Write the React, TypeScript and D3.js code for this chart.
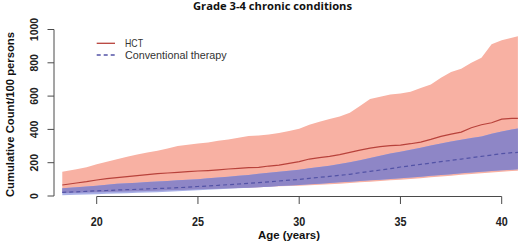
import React from "react";
import * as d3 from "d3";

const ages = [18.3, 19, 19.5, 20, 20.5, 21, 21.5, 22, 22.5, 23, 23.5, 24, 24.5, 25, 25.5, 26, 26.5, 27, 27.5, 28, 28.5, 29, 29.5, 30, 30.5, 31, 31.5, 32, 32.5, 33, 33.5, 34, 34.5, 35, 35.5, 36, 36.5, 37, 37.5, 38, 38.5, 39, 39.5, 40, 40.5, 40.8];

const hctUpper = [146, 160, 172, 190, 205, 220, 235, 250, 262, 272, 285, 300, 308, 316, 322, 332, 340, 350, 360, 364, 370, 378, 390, 404, 428, 446, 462, 478, 500, 540, 582, 596, 610, 616, 626, 648, 670, 710, 745, 765, 800, 830, 912, 935, 950, 960];
const hctMean = [66, 78, 86, 96, 104, 110, 116, 122, 128, 134, 138, 142, 146, 150, 153, 157, 162, 166, 170, 172, 180, 186, 196, 206, 222, 230, 238, 248, 262, 276, 288, 296, 302, 306, 314, 324, 340, 358, 372, 384, 410, 428, 440, 462, 466, 466];
const hctLower = [18, 20, 21, 22, 24, 25, 27, 28, 30, 32, 34, 36, 38, 40, 42, 44, 46, 48, 50, 52, 55, 58, 60, 62, 65, 68, 71, 74, 78, 82, 86, 90, 94, 98, 102, 107, 112, 117, 122, 127, 132, 137, 141, 146, 150, 152];

const convUpper = [46, 52, 57, 62, 68, 73, 77, 80, 84, 87, 90, 94, 97, 100, 106, 111, 116, 121, 126, 133, 140, 146, 152, 158, 166, 174, 182, 192, 202, 214, 228, 242, 255, 266, 278, 290, 303, 316, 328, 338, 348, 358, 374, 388, 400, 406];
const convMean = [22, 25, 28, 31, 33, 36, 38, 40, 43, 45, 47, 50, 53, 57, 60, 64, 68, 72, 76, 80, 85, 90, 95, 100, 106, 112, 118, 124, 130, 140, 148, 156, 164, 174, 182, 190, 198, 207, 214, 222, 230, 238, 246, 254, 260, 262];
const convLower = [5, 7, 9, 11, 13, 15, 17, 19, 21, 23, 25, 28, 31, 34, 37, 40, 43, 46, 49, 52, 56, 60, 63, 66, 70, 74, 78, 82, 86, 90, 94, 98, 102, 106, 111, 116, 121, 126, 131, 136, 141, 146, 150, 155, 158, 160];

const xTicks = [20, 25, 30, 35, 40];
const yTicks = [0, 200, 400, 600, 800, 1000];
const seriesNames = ["HCT", "Conventional therapy"];
const title = "Grade 3-4 chronic conditions";
const xLabel = "Age (years)";
const yLabel = "Cumulative Count/100 persons";

const PINK = "#f8b1a3";
const LIGHTBLUE = "#a9b0e6";
const PURPLE = "#8e86c6";
const RED = "#b8423b";
const BLUE = "#5353a6";
const AXIS = "#4a4a4a";

export default function App() {
  const x = d3.scaleLinear().domain([20, 40]).range([96.7, 501.7]);
  const y = d3.scaleLinear().domain([0, 1000]).range([196, 29.5]);

  const rows = ages.map((a, i) => ({
    a,
    hu: hctUpper[i],
    hm: hctMean[i],
    hl: hctLower[i],
    cu: convUpper[i],
    cm: convMean[i],
    cl: convLower[i],
  }));

  const band = (lo: (d: any) => number, hi: (d: any) => number) =>
    d3
      .area<any>()
      .x((d) => x(d.a))
      .y0((d) => y(lo(d)))
      .y1((d) => y(hi(d)))
      .curve(d3.curveLinear)(rows) || "";

  const line = (f: (d: any) => number) =>
    d3
      .line<any>()
      .x((d) => x(d.a))
      .y((d) => y(f(d)))
      .curve(d3.curveLinear)(rows) || "";

  const pinkPath = band((d) => d.hl, (d) => d.hu);
  const bluePath = band((d) => d.cl, (d) => d.cu);
  const overlapPath = band(
    (d) => Math.max(d.cl, d.hl),
    (d) => Math.min(d.cu, d.hu)
  );

  const boldFont = "'Liberation Sans', Arial, sans-serif";
  const calibriLike = "'Open Sans', 'Liberation Sans', sans-serif";

  return (
    <svg
      width={520}
      height={241}
      style={{ position: "absolute", left: 0, top: 0, background: "#fff" }}
    >
      <rect x={0} y={0} width={520} height={241} fill="#fff" />
      <text
        x={272.5}
        y={10}
        textAnchor="middle"
        fontFamily={calibriLike}
        fontWeight="bold"
        fontSize={10.5}
        textLength={159}
        lengthAdjust="spacingAndGlyphs"
        fill="#111"
      >
        {title}
      </text>

      <path d={pinkPath} fill={PINK} />
      <path d={bluePath} fill={LIGHTBLUE} />
      <path d={overlapPath} fill={PURPLE} />
      <path d={line((d) => d.hm)} fill="none" stroke={RED} strokeWidth={1.2} />
      <path
        d={line((d) => d.cm)}
        fill="none"
        stroke={BLUE}
        strokeWidth={1.2}
        strokeDasharray="4,3"
      />

      {/* Y axis */}
      <line x1={54} x2={54} y1={y(1000)} y2={y(0)} stroke={AXIS} strokeWidth={1} />
      {yTicks.map((t) => (
        <g key={t}>
          <line x1={47.5} x2={54} y1={y(t)} y2={y(t)} stroke={AXIS} strokeWidth={1} />
          <text
            transform={`translate(37.5,${y(t)}) rotate(-90)`}
            textAnchor="middle"
            fontFamily={boldFont}
            fontWeight="bold"
            fontSize={10.5}
            fill="#222"
          >
            {t}
          </text>
        </g>
      ))}
      <text
        transform={`translate(13.5,114.5) rotate(-90)`}
        textAnchor="middle"
        fontFamily={boldFont}
        fontWeight="bold"
        fontSize={11}
        textLength={165}
        lengthAdjust="spacingAndGlyphs"
        fill="#111"
      >
        {yLabel}
      </text>

      {/* X axis */}
      <line x1={x(20)} x2={x(40)} y1={196.5} y2={196.5} stroke={AXIS} strokeWidth={1} />
      {xTicks.map((t) => (
        <g key={t}>
          <line x1={x(t)} x2={x(t)} y1={196.5} y2={204} stroke={AXIS} strokeWidth={1} />
          <text
            x={x(t)}
            y={226}
            textAnchor="middle"
            fontFamily={boldFont}
            fontWeight="bold"
            fontSize={12}
            textLength={12}
            lengthAdjust="spacingAndGlyphs"
            fill="#222"
          >
            {t}
          </text>
        </g>
      ))}
      <text
        x={289}
        y={239}
        textAnchor="middle"
        fontFamily={boldFont}
        fontWeight="bold"
        fontSize={10.5}
        textLength={62}
        lengthAdjust="spacingAndGlyphs"
        fill="#111"
      >
        {xLabel}
      </text>

      {/* Legend */}
      <line x1={96.7} x2={115} y1={43.3} y2={43.3} stroke={RED} strokeWidth={1.3} />
      <text
        x={125}
        y={47.3}
        fontFamily={boldFont}
        fontSize={11}
        textLength={18}
        lengthAdjust="spacingAndGlyphs"
        fill="#333"
      >
        {seriesNames[0]}
      </text>
      <line
        x1={96.7}
        x2={115}
        y1={55}
        y2={55}
        stroke={BLUE}
        strokeWidth={1.3}
        strokeDasharray="4,3"
      />
      <text
        x={125}
        y={59}
        fontFamily={boldFont}
        fontSize={11}
        textLength={101.7}
        lengthAdjust="spacingAndGlyphs"
        fill="#333"
      >
        {seriesNames[1]}
      </text>
    </svg>
  );
}
